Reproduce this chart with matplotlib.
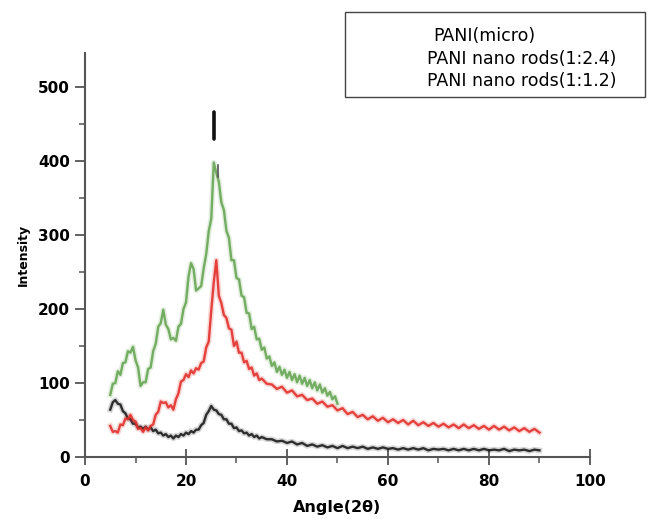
import numpy as np
import matplotlib
matplotlib.use("Agg")
import matplotlib.pyplot as plt
from matplotlib.patches import Rectangle

# ---- data ----
labels = ["PANI(micro)", "PANI nano rods(1:2.4)", "PANI nano rods(1:1.2)"]

# sample positions (2 theta, degrees)
green_x = np.arange(5.0, 50.01, 0.5)
long_x = np.r_[np.arange(5.0, 35.01, 0.5), np.arange(36.0, 90.01, 1.0)]

# PANI nano rods (1:1.2) - green, 5..50 deg
green_y = [84, 99, 100, 116, 111, 127, 128, 143, 141, 149,
           131, 121, 96, 101, 101, 119, 121, 143, 153, 176,
           181, 199, 179, 173, 159, 161, 157, 176, 180, 200,
           209, 244, 262, 254, 225, 228, 231, 255, 274, 305,
           322, 398, 384, 372, 344, 334, 306, 296, 266, 266,
           242, 240, 218, 216, 195, 194, 173, 176, 159, 160,
           145, 148, 133, 136, 123, 128, 115, 122, 111, 118,
           107, 115, 104, 112, 101, 110, 99, 107, 96, 104,
           93, 101, 90, 98, 87, 93, 83, 88, 78, 82,
           72]

# PANI nano rods (1:2.4) - red, 5..90 deg
red_y = [42, 34, 35, 33, 44, 43, 52, 51, 57, 50,
         48, 38, 39, 34, 40, 36, 42, 44, 57, 61,
         75, 73, 74, 67, 70, 64, 78, 86, 102, 104,
         112, 108, 117, 113, 120, 118, 127, 129, 148, 156,
         198, 236, 266, 218, 208, 192, 188, 174, 172, 150,
         156, 141, 141, 128, 130, 119, 121, 110, 113, 104,
         106,
         99, 98, 92, 95, 87, 90, 82, 84, 77, 79,
         72, 75, 68, 70, 63, 66, 58, 61, 54, 57,
         51, 55, 49, 53, 47, 51, 46, 50, 44, 49,
         43, 47, 42, 46, 41, 45, 40, 44, 39, 44,
         39, 43, 38, 42, 37, 42, 37, 41, 36, 40,
         35, 39, 34, 38, 33]

# PANI (micro) - black, 5..90 deg
black_y = [64, 74, 77, 72, 71, 62, 59, 52, 51, 45,
           45, 40, 41, 38, 41, 37, 40, 35, 37, 32,
           33, 29, 31, 27, 29, 25, 29, 27, 31, 29,
           33, 31, 35, 33, 37, 37, 43, 46, 57, 62,
           69, 64, 63, 58, 57, 51, 51, 45, 45, 39,
           40, 35, 36, 32, 33, 29, 31, 27, 29, 25,
           27,
           24, 24, 21, 22, 19, 21, 17, 19, 15, 17,
           14, 16, 13, 15, 12, 15, 12, 14, 12, 14,
           11, 13, 11, 13, 11, 12, 10, 12, 10, 12,
           10, 12, 9, 11, 10, 11, 9, 11, 9, 11,
           9, 11, 9, 11, 9, 10, 9, 11, 8, 10,
           9, 10, 8, 10, 9]

# sharp dark spike on top of the main peak
spike_x = [25.6, 25.6]
spike_y = [430, 466]
dash_x = [26.3, 26.3]
dash_y = [378, 395]

# ---- figure ----
fig = plt.figure(figsize=(6.49, 5.25), dpi=100)
ax = fig.add_axes([0.131, 0.1295, 0.778, 0.7695])

# soft halo under each trace to mimic the noisy scan, then the trace itself
for y, x, c in [(black_y, long_x, "#1c1c1c"), (red_y, long_x, "#e2302c"),
                (green_y, green_x, "#66a653")]:
    ax.plot(x, y, color=c, lw=4.0, alpha=0.18)
    ax.plot(x, y, color=c, lw=1.7, alpha=0.9)
ax.plot(spike_x, spike_y, color="#111111", lw=2.6, solid_capstyle="round")
ax.plot(dash_x, dash_y, color="#555555", lw=1.2)

ax.set_xlim(0, 100)
ax.set_ylim(0, 546)
ax.set_xticks(np.arange(0, 101, 20))
ax.set_xticks(np.arange(10, 100, 20), minor=True)
ax.set_yticks(np.arange(0, 501, 100))
ax.set_yticks(np.arange(50, 501, 100), minor=True)

for s in ["top", "right"]:
    ax.spines[s].set_visible(False)
for s in ["left", "bottom"]:
    ax.spines[s].set_color("#555555")
    ax.spines[s].set_linewidth(1.5)

ax.tick_params(axis="x", which="major", direction="inout", length=11, width=1.3,
               color="#555555", pad=7, labelsize=11)
ax.tick_params(axis="y", which="major", direction="out", length=7, width=1.3,
               color="#555555", pad=4, labelsize=11)
ax.tick_params(which="minor", direction="out", length=4, width=1.1, color="#555555")
for lab in ax.get_xticklabels() + ax.get_yticklabels():
    lab.set_fontweight("bold")

ax.set_xlabel("Angle(2θ)", fontsize=11.5, fontweight="bold", labelpad=8)
ax.set_ylabel("Intensity", fontsize=9, fontweight="bold", labelpad=6)

# legend box (text only, as in the reference)
fig.patches.append(Rectangle((345 / 649, 1 - 97 / 525), 300 / 649, 85 / 525,
                             transform=fig.transFigure, fill=False,
                             edgecolor="#444444", lw=1.0))
fig.text(433 / 649, 1 - 36 / 525, labels[0], fontsize=12.5, va="center", ha="left")
fig.text(427 / 649, 1 - 59 / 525, labels[1], fontsize=12.5, va="center", ha="left")
fig.text(427 / 649, 1 - 81 / 525, labels[2], fontsize=12.5, va="center", ha="left")

fig.savefig("out.png", dpi=100)
